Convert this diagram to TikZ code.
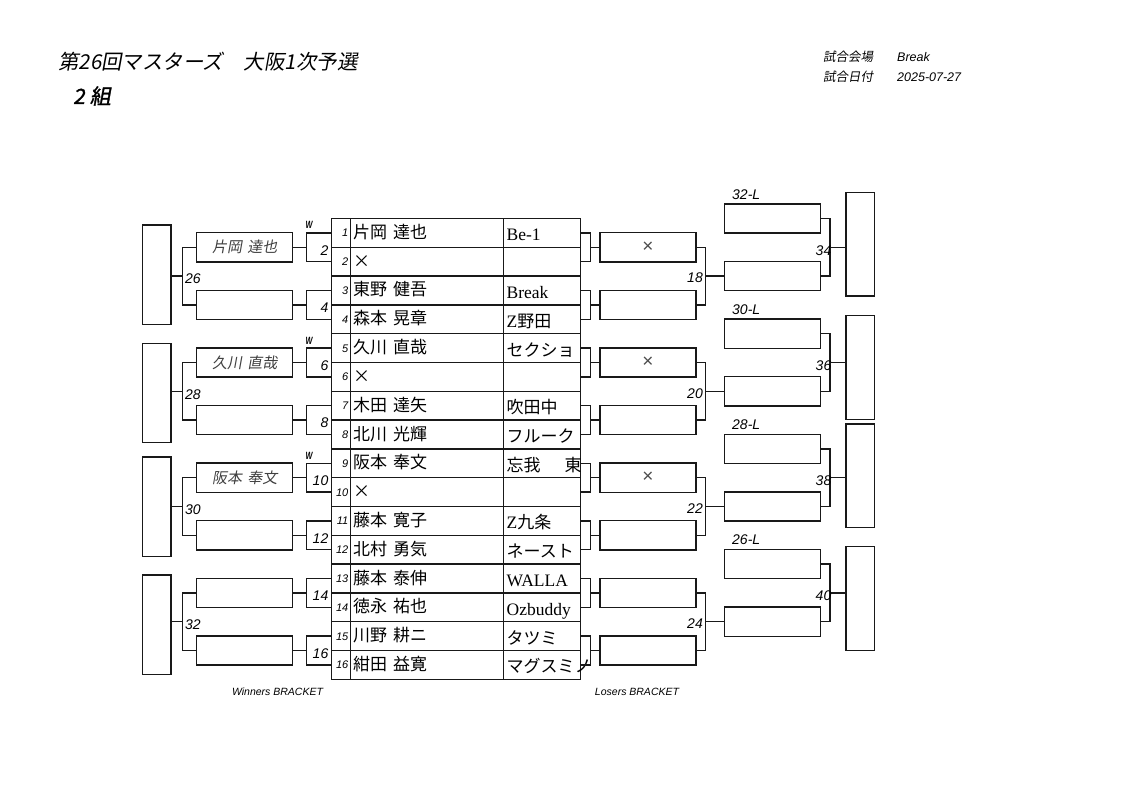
\documentclass[tikz,border=0pt]{standalone}
\usepackage{fontspec}
\setmainfont{Liberation Serif}
\newfontfamily\jp{Noto Sans CJK JP}
\newfontfamily\jpit[FakeSlant=0.18]{Noto Sans CJK JP}
\newfontfamily\jpbi[FakeSlant=0.18,FakeBold=1.5]{Noto Sans CJK JP}
\newfontfamily\ls{Liberation Sans}
\usetikzlibrary{calc}
\newcommand\fsz[1]{\fontsize{#1}{#1}\selectfont}
\newcommand\jgap{\hspace{0.35em}}
\tikzset{
  ln/.style={line width=1.35pt, draw=black!90},
  cell/.style={draw=black!90, line width=1.35pt, minimum height=28.8pt, inner sep=0pt, outer sep=0pt},
  namebox/.style={draw=black!90, line width=1.35pt, minimum width=96pt, minimum height=29.3pt, inner sep=0pt, outer sep=0pt,
    font=\jpit\fsz{15}, text=black!75},
  lbigbox/.style={draw=black!90, line width=1.35pt, minimum width=28.3pt, minimum height=99.5pt, inner sep=0pt, outer sep=0pt},
  rbigbox/.style={draw=black!90, line width=1.35pt, minimum width=28.7pt, minimum height=103.7pt, inner sep=0pt, outer sep=0pt},
  lbl/.style={font=\ls\itshape\fsz{14}, inner sep=0pt},
  numtxt/.style={font=\ls\itshape\fsz{11}, inner sep=0pt},
  nametxt/.style={font=\jp\fsz{17}, inner sep=0pt},
  teamtxt/.style={font=\fsz{17.5}, inner sep=0pt},
  wlbl/.style={font=\ls\bfseries\itshape\fsz{10.5}, inner sep=0pt},
  foot/.style={font=\ls\itshape\fsz{10.5}, inner sep=0pt},
}
\begin{document}
\begin{tikzpicture}[x=1pt,y=-1pt]
\fill[white] (0,0) rectangle (1122,794);
\useasboundingbox (0,0) rectangle (1122,794);

% header
\node[anchor=west, inner sep=0pt, font=\jpit\fsz{20.5}] (title) at (58,62) {第26回マスターズ　大阪1次予選};
\node[anchor=west, inner sep=0pt, font=\jpbi\fsz{21}] (group) at (73,96) {2\hspace{5pt}組};
\node[anchor=west, inner sep=0pt, font=\jpit\fsz{12.5}] (venuek) at (823,57) {試合会場};
\node[anchor=west, inner sep=0pt, font=\ls\itshape\fsz{12.5}] (venuev) at (897,57) {Break};
\node[anchor=west, inner sep=0pt, font=\jpit\fsz{12.5}] (datek) at (823,77) {試合日付};
\node[anchor=west, inner sep=0pt, font=\ls\itshape\fsz{12.5}] (datev) at (897,77) {2025-07-27};

% table
\foreach \k/\nm/\tm in {
  1/{片岡\jgap 達也}/{Be-1},
  2/{×}/{},
  3/{東野\jgap 健吾}/{Break},
  4/{森本\jgap 晃章}/{Z{\jp\fsz{17}野田}},
  5/{久川\jgap 直哉}/{{\jp\fsz{17}セクショ}},
  6/{×}/{},
  7/{木田\jgap 達矢}/{{\jp\fsz{17}吹田中}},
  8/{北川\jgap 光輝}/{{\jp\fsz{17}フルーク}},
  9/{阪本\jgap 奉文}/{{\jp\fsz{17}忘我　\hspace{7pt}東}},
  10/{×}/{},
  11/{藤本\jgap 寛子}/{Z{\jp\fsz{17}九条}},
  12/{北村\jgap 勇気}/{{\jp\fsz{17}ネースト}},
  13/{藤本\jgap 泰伸}/{WALLA},
  14/{徳永\jgap 祐也}/{Ozbuddy},
  15/{川野\jgap 耕ニ}/{{\jp\fsz{17}タツミ}},
  16/{紺田\jgap 益寛}/{{\jp\fsz{17}マグスミノ}}}{
  \pgfmathsetmacro\yc{218.5+(\k-0.5)*28.8}
  \node[cell, minimum width=19pt] (num\k) at (341,\yc) {};
  \node[cell, minimum width=153pt] (name\k) at (427,\yc) {};
  \node[cell, minimum width=77pt] (team\k) at (542,\yc) {};
  \node[numtxt, anchor=base east] (numt\k) at ($(num\k.east)+(-2,4)$) {\k};
  \node[nametxt, anchor=base west] (namet\k) at ($(name\k.west)+(2.5,5.5)$) {\nm};
  \node[teamtxt, anchor=base west] (teamt\k) at ($(team\k.west)+(3,8)$) {\tm};
}

% big boxes
\node[lbigbox] (wbig1) at (156.85,274.65) {};
\node[lbigbox] (wbig2) at (156.85,393) {};
\node[lbigbox] (wbig3) at (156.85,506.7) {};
\node[lbigbox] (wbig4) at (156.85,624.65) {};
\node[rbigbox] (rbig1) at (860.35,244.3) {};
\node[rbigbox] (rbig2) at (860.35,367.5) {};
\node[rbigbox] (rbig3) at (860.35,475.85) {};
\node[rbigbox] (rbig4) at (860.35,598.35) {};

% first round pairs
\foreach \m/\wt/\lt in {1/{片岡\jgap 達也}/{\ls\fsz{19}\color{black!70}×}, 2//, 3/{久川\jgap 直哉}/{\ls\fsz{19}\color{black!70}×}, 4//,
                        5/{阪本\jgap 奉文}/{\ls\fsz{19}\color{black!70}×}, 6//, 7//, 8//}{
  \pgfmathtruncatemacro\ra{2*\m-1}
  \pgfmathtruncatemacro\rb{2*\m}
  \pgfmathsetmacro\P{218.5+(2*\m-1)*28.8}
  \coordinate (wb\m) at (306.7,\P);
  \coordinate (lb\m) at (590.7,\P);
  \node[namebox] (wn\m) at (244.7,\P) {\wt};
  \node[namebox] (ln\m) at (647.85,\P) {\lt};
  \draw[ln] (num\ra.west) -| (wb\m) |- (num\rb.west);
  \draw[ln] (wb\m) -- (wn\m.east);
  \draw[ln] (team\ra.east) -| (lb\m) |- (team\rb.east);
  \draw[ln] (lb\m) -- (ln\m.west);
  \node[lbl, anchor=east] (wl\m) at (328.5,{\P+3}) {\rb};
}

% W marks
\foreach \m in {1,3,5}{
  \pgfmathsetmacro\P{218.5+(2*\m-1)*28.8}
  \node[wlbl] (wW\m) at (309,{\P-22}) {\scalebox{0.7}[1]{W}};
}

% groups
\foreach \gi in {1,2,3,4}{
  \pgfmathtruncatemacro\ra{2*\gi-1}
  \pgfmathtruncatemacro\rb{2*\gi}
  \pgfmathsetmacro\J{218.5+(4*\gi-2)*28.8}
  \pgfmathtruncatemacro\wnum{24+2*\gi}
  \pgfmathtruncatemacro\lnum{16+2*\gi}
  \pgfmathtruncatemacro\fnum{32+2*\gi}
  \pgfmathtruncatemacro\xnum{34-2*\gi}
  % winners side
  \coordinate (wj\gi) at (182.3,\J);
  \draw[ln] (wn\ra.west) -| (wj\gi) |- (wn\rb.west);
  \draw[ln] (wj\gi) -- (wj\gi -| wbig\gi.east);
  \node[lbl, anchor=west] (wg\gi) at (185,{\J+3}) {\wnum};
  % losers side
  \coordinate (lj\gi) at (705.7,\J);
  \draw[ln] (ln\ra.east) -| (lj\gi) |- (ln\rb.east);
  \node[namebox] (rb\gi) at (772.5,\J) {};
  \node[namebox] (rt\gi) at (772.5,{\J-57.6}) {};
  \draw[ln] (lj\gi) -- (rb\gi.west);
  \node[lbl, anchor=east] (lg\gi) at (703,{\J+2}) {\lnum};
  \coordinate (rj\gi) at (830,{\J-28.8});
  \draw[ln] (rt\gi.east) -| (rj\gi) |- (rb\gi.east);
  \draw[ln] (rj\gi) -- (rj\gi -| rbig\gi.west);
  \node[lbl, anchor=east] (fg\gi) at (831.5,{\J-25.8}) {\fnum};
  \node[lbl, anchor=west] (xl\gi) at (732,{\J-81.6}) {\xnum-L};
}

% footers
\node[foot] (wfoot) at (277.5,692) {Winners BRACKET};
\node[foot] (lfoot) at (637,692) {Losers BRACKET};
\end{tikzpicture}
\end{document}
